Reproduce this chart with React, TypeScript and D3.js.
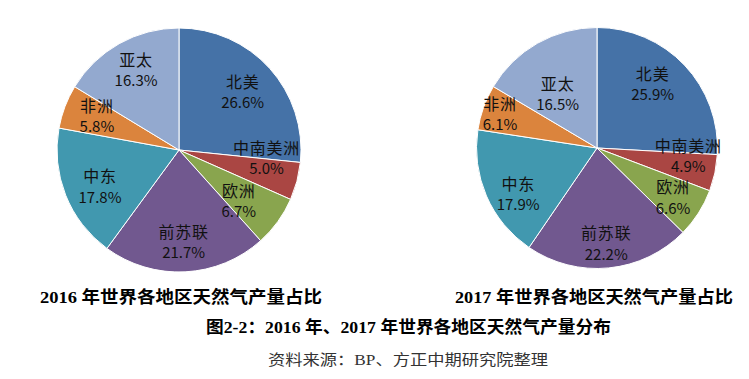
import React from 'react';
import * as d3 from 'd3';

const regions = ['北美', '中南美洲', '欧洲', '前苏联', '中东', '非洲', '亚太'];
const share2016 = [26.6, 5.0, 6.7, 21.7, 17.8, 5.8, 16.3];
const share2017 = [25.9, 4.9, 6.6, 22.2, 17.9, 6.1, 16.5];
const colors = ['#4572A7', '#AA4643', '#89A54E', '#71588F', '#4198AF', '#DB843D', '#93A9CF'];

const chartTitles = ['2016 年世界各地区天然气产量占比', '2017 年世界各地区天然气产量占比'];
const caption = '图2-2：2016 年、2017 年世界各地区天然气产量分布';
const source = '资料来源：BP、方正中期研究院整理';

// label placement: [radius factor, angle nudge in degrees]
const labelNudge2016: [number, number][] = [[0.71, -0.6], [0.72, -10], [0.64, 4], [0.75, 0], [0.71, -2.5], [0.73, 2], [0.75, 1.4]];
const labelNudge2017: [number, number][] = [[0.71, -6], [0.76, -7.5], [0.75, 0], [0.79, 0], [0.755, -6.5], [0.855, 0], [0.56, -6]];

const labelFont = '"Noto Sans CJK SC", "Noto Sans", sans-serif';
const titleFont = '"Liberation Serif", "Noto Sans CJK SC", serif';

function Pie({ values, cx, cy, r, nudge }: { values: number[]; cx: number; cy: number; r: number; nudge: [number, number][] }) {
  const pie = d3.pie<number>().sort(null).value((d) => d);
  const arcs = pie(values);
  const arc = d3.arc<d3.PieArcDatum<number>>().innerRadius(0).outerRadius(r);
  return (
    <g transform={`translate(${cx},${cy})`}>
      {arcs.map((a, i) => (
        <path key={i} d={arc(a) || ''} fill={colors[i]} stroke="#fff" strokeWidth={1} />
      ))}
      {arcs.map((a, i) => {
        const [f, da] = nudge[i];
        const ang = (a.startAngle + a.endAngle) / 2 + (da * Math.PI) / 180;
        const x = Math.sin(ang) * r * f;
        const y = -Math.cos(ang) * r * f;
        return (
          <g key={'l' + i} fontFamily={labelFont} fill="#111" textAnchor="middle">
            <text x={x} y={y - 10.5} dominantBaseline="central" fontSize={16} letterSpacing={0.8}>{regions[i]}</text>
            <text x={x} y={y + 10.5} dominantBaseline="central" fontSize={15}>{values[i].toFixed(1)}%</text>
          </g>
        );
      })}
    </g>
  );
}

export default function App() {
  return (
    <svg width={749} height={379} style={{ position: 'absolute', left: 0, top: 0, background: '#fff' }}>
      <rect width={749} height={379} fill="#fff" />
      <Pie values={share2016} cx={179} cy={150} r={122} nudge={labelNudge2016} />
      <Pie values={share2017} cx={597} cy={148} r={120.5} nudge={labelNudge2017} />
      <text x={40} y={297} dominantBaseline="central" fontFamily={titleFont} fontWeight="bold" fontSize={17} textLength={282} lengthAdjust="spacingAndGlyphs" fill="#000">{chartTitles[0]}</text>
      <text x={455} y={297} dominantBaseline="central" fontFamily={titleFont} fontWeight="bold" fontSize={17} textLength={278} lengthAdjust="spacingAndGlyphs" fill="#000">{chartTitles[1]}</text>
      <text x={206} y={327} dominantBaseline="central" fontFamily={titleFont} fontWeight="bold" fontSize={17} textLength={405} lengthAdjust="spacingAndGlyphs" fill="#000">{caption}</text>
      <text x={268} y={360} dominantBaseline="central" fontFamily={titleFont} fontSize={15} textLength={280} lengthAdjust="spacingAndGlyphs" fill="#333">{source}</text>
    </svg>
  );
}
